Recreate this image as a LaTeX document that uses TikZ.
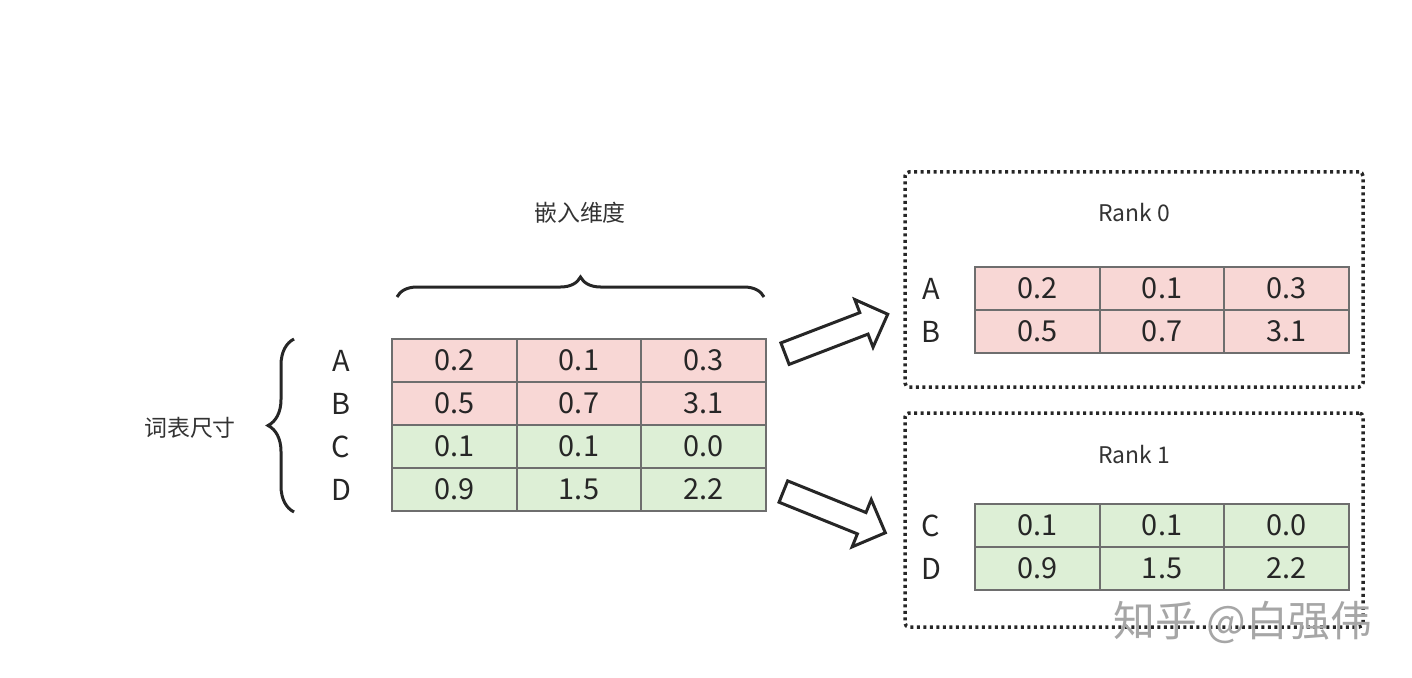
\documentclass[tikz,border=0pt]{standalone}
\usepackage{fontspec}
\setmainfont{Noto Sans CJK SC}
\usepackage{tikz}
\usetikzlibrary{positioning, shapes.arrows, decorations.pathreplacing}

\definecolor{cellred}{HTML}{F8D7D5}
\definecolor{cellgreen}{HTML}{DDEFD6}
\definecolor{cellline}{HTML}{6E6E6E}

\tikzset{
  cell/.style={draw=cellline, line width=2bp, minimum width=124.5bp, minimum height=43bp,
    inner sep=0pt, font=\fontsize{29}{29}\selectfont, text=black!85},
  redcell/.style={cell, fill=cellred},
  greencell/.style={cell, fill=cellgreen},
  rowlab/.style={font=\fontsize{29}{29}\selectfont, text=black!85},
  captext/.style={font=\fontsize{23}{23}\selectfont, text=black!80},
  rankbox/.style={draw=black!85, line width=3.5bp, dash pattern=on 3bp off 3.5bp, rounded corners=4bp},
  bigarrow/.style={single arrow, draw=black!85, line width=3bp, fill=white,
    minimum height=110bp, inner xsep=0pt, inner ysep=10bp, single arrow head extend=14bp},
  brace/.style={draw=black!85, line width=3bp, decorate, decoration={brace, amplitude=20bp}},
}

\begin{document}
\begin{tikzpicture}[x=1bp, y=-1bp]
  \useasboundingbox (0,0) rectangle (1412,678);

  % Main table
  \foreach \r/\s/\a/\b/\c [count=\i] in {A/redcell/0.2/0.1/0.3, B/redcell/0.5/0.7/3.1,
      C/greencell/0.1/0.1/0.0, D/greencell/0.9/1.5/2.2} {
    \node[\s] (m\i a) at (454.5, 317.5+43*\i) {\a};
    \node[\s] (m\i b) at (579, 317.5+43*\i) {\b};
    \node[\s] (m\i c) at (703.5, 317.5+43*\i) {\c};
    \node[rowlab] (l\i) at (341, 317.5+43*\i) {\r};
  }

  % Braces
  \draw[brace] (397,297) -- (764,297);
  \node[captext] (dim) at (580,213) {嵌入维度};
  \draw[brace, decoration={amplitude=26bp}] (294,512) -- (294,339);
  \node[captext] (voc) at (190,428) {词表尺寸};

  % Rank 0
  \node[rankbox, minimum width=458bp, minimum height=215bp] (r0) at (1134,279.5) {};
  \node[captext] (r0t) at (1134,213) {Rank 0};
  \foreach \r/\a/\b/\c [count=\i] in {A/0.2/0.1/0.3, B/0.5/0.7/3.1} {
    \node[redcell] (p\i a) at (1037.5, 245.5+43*\i) {\a};
    \node[redcell] (p\i b) at (1162, 245.5+43*\i) {\b};
    \node[redcell] (p\i c) at (1286.5, 245.5+43*\i) {\c};
    \node[rowlab] (pl\i) at (931, 245.5+43*\i) {\r};
  }

  % Rank 1
  \node[rankbox, minimum width=458bp, minimum height=214bp] (r1) at (1134,520) {};
  \node[captext] (r1t) at (1134,455) {Rank 1};
  \foreach \r/\a/\b/\c [count=\i] in {C/0.1/0.1/0.0, D/0.9/1.5/2.2} {
    \node[greencell] (q\i a) at (1037.5, 482.5+43*\i) {\a};
    \node[greencell] (q\i b) at (1162, 482.5+43*\i) {\b};
    \node[greencell] (q\i c) at (1286.5, 482.5+43*\i) {\c};
    \node[rowlab] (ql\i) at (931, 482.5+43*\i) {\r};
  }

  % Arrows
  \node[bigarrow, rotate=21] (a0) at (831,336) {};
  \node[bigarrow, rotate=-22] (a1) at (829,510) {};

  % Watermark
  \node[font=\fontsize{42}{42}\selectfont, text=black!35] (wm) at (1243,622) {知乎 @白强伟};
\end{tikzpicture}
\end{document}
